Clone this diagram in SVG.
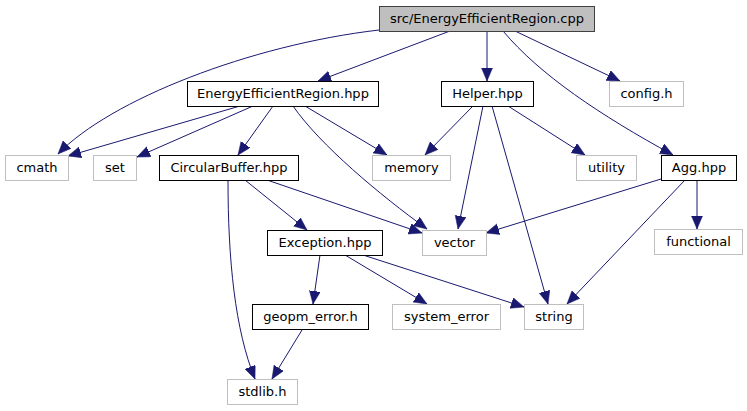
<svg xmlns="http://www.w3.org/2000/svg" width="747" height="411" viewBox="0 0 747 411">
<style>
.n rect{fill:#ffffff;stroke:#000000;stroke-width:1}
.x rect{fill:#ffffff;stroke:#bfbfbf;stroke-width:1}
.r rect{fill:#bfbfbf;stroke:#404040;stroke-width:1}
text{font-family:"DejaVu Sans",sans-serif;font-size:13px;fill:#000;text-anchor:middle}
#edges path{fill:none;stroke:#191970;stroke-width:1;marker-end:url(#ah)}
</style>
<defs>
<marker id="ah" markerUnits="userSpaceOnUse" markerWidth="15" markerHeight="12" refX="13" refY="5.5" orient="auto">
<path d="M0,0 L13,5.5 L0,11 z" fill="#191970" stroke="#191970" stroke-width="0.5"/>
</marker>
</defs>
<rect width="747" height="411" fill="#ffffff"/>
<g id="edges">
<path d="M379,30 C250,45 110,100 58,154"/>
<path d="M450,31 L318,81"/>
<path d="M487,31 L487,81"/>
<path d="M515,31 L620,81"/>
<path d="M503,31 C540,75 600,115 673,155"/>
<path d="M240,106 L68,156"/>
<path d="M253,106 L137,157"/>
<path d="M273,106 L238,155"/>
<path d="M305,106 L387,155"/>
<path d="M293,106 C320,145 380,195 427,229"/>
<path d="M473,106 L425,155"/>
<path d="M483,106 L458,229"/>
<path d="M492,106 L548,304"/>
<path d="M508,106 L585,155"/>
<path d="M245,180 L307,230"/>
<path d="M267,180 L422,233"/>
<path d="M228,180 C228,260 235,330 255,379"/>
<path d="M661,179 L486,233"/>
<path d="M697,180 L697,229"/>
<path d="M685,180 L567,304"/>
<path d="M320,255 L313,304"/>
<path d="M345,255 L427,304"/>
<path d="M363,255 L524,307"/>
<path d="M302,330 L272,379"/>
</g>
<g id="root" class="r"><rect x="379.5" y="6.5" width="215" height="25"/><text x="487" y="23">src/EnergyEfficientRegion.cpp</text></g>
<g id="eehpp" class="n"><rect x="187.5" y="81.5" width="191" height="25"/><text x="283" y="98">EnergyEfficientRegion.hpp</text></g>
<g id="helper" class="n"><rect x="441.5" y="81.5" width="92" height="25"/><text x="487.5" y="98">Helper.hpp</text></g>
<g id="config" class="x"><rect x="609.5" y="81.5" width="74" height="25"/><text x="646.5" y="98">config.h</text></g>
<g id="cmath" class="x"><rect x="5.5" y="155.5" width="63" height="25"/><text x="37" y="172">cmath</text></g>
<g id="set" class="x"><rect x="93.5" y="155.5" width="43" height="25"/><text x="115" y="172">set</text></g>
<g id="circbuf" class="n"><rect x="159.5" y="155.5" width="139" height="25"/><text x="229" y="172">CircularBuffer.hpp</text></g>
<g id="memory" class="x"><rect x="372.5" y="155.5" width="78" height="25"/><text x="411.5" y="172">memory</text></g>
<g id="utility" class="x"><rect x="576.5" y="155.5" width="60" height="25"/><text x="606.5" y="172">utility</text></g>
<g id="agg" class="n"><rect x="661.5" y="155.5" width="75" height="25"/><text x="699" y="172">Agg.hpp</text></g>
<g id="exception" class="n"><rect x="267.5" y="230.5" width="115" height="25"/><text x="325" y="247">Exception.hpp</text></g>
<g id="vector" class="x"><rect x="422.5" y="230.5" width="64" height="25"/><text x="454.5" y="247">vector</text></g>
<g id="functional" class="x"><rect x="654.5" y="229.5" width="88" height="25"/><text x="698.5" y="246">functional</text></g>
<g id="geopm" class="n"><rect x="252.5" y="304.5" width="116" height="25"/><text x="310.5" y="321">geopm_error.h</text></g>
<g id="syserr" class="x"><rect x="392.5" y="304.5" width="108" height="25"/><text x="446.5" y="321">system_error</text></g>
<g id="string" class="x"><rect x="524.5" y="304.5" width="59" height="25"/><text x="554" y="321">string</text></g>
<g id="stdlib" class="x"><rect x="227.5" y="379.5" width="70" height="25"/><text x="262.5" y="396">stdlib.h</text></g>
</svg>
